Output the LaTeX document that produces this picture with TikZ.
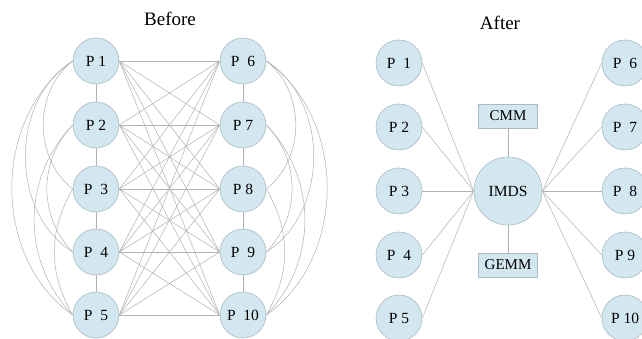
\documentclass[tikz,border=0pt]{standalone}
\usepackage{fontspec}
\setmainfont{Liberation Serif}
\begin{document}
\definecolor{nodefill}{HTML}{D3E7F0}
\definecolor{nodeline}{HTML}{A9BAC2}
\definecolor{wire}{HTML}{B2B2B2}
\newcommand{\wg}{\hspace{4pt}\ }
\begin{tikzpicture}[x=1pt,y=-1pt,
  proc/.style={circle,minimum size=46pt,inner sep=0pt,fill=nodefill,draw=nodeline,line width=0.6pt,font=\fontsize{15.5}{15.5}\selectfont},
  hub/.style={proc,minimum size=68pt},
  modbox/.style={rectangle,minimum width=59pt,minimum height=24pt,inner sep=0pt,fill=nodefill,draw=nodeline,line width=0.6pt,font=\fontsize{15}{15}\selectfont},
  ttl/.style={font=\fontsize{19}{19}\selectfont},
  link/.style={draw=wire,line width=0.5pt}]
\useasboundingbox (0,0) rectangle (642,339);
\fill[white] (0,0) rectangle (642,339);

% ---- Before: fully meshed processes ----
\node[ttl] (tb) at (170,19) {Before};
\node[proc] (a1) at (96,61) {P 1};
\node[proc] (a2) at (96,125) {P 2};
\node[proc] (a3) at (96,189) {P\wg 3};
\node[proc] (a4) at (96,252) {P\wg 4};
\node[proc] (a5) at (96,315) {P\wg 5};
\node[proc] (b1) at (243,61) {P\wg 6};
\node[proc] (b2) at (243,125) {P 7};
\node[proc] (b3) at (243,189) {P 8};
\node[proc] (b4) at (243,252) {P\wg 9};
\node[proc] (b5) at (243,315) {P\wg 10};

% neighbours within each column
\foreach \i/\j in {1/2,2/3,3/4,4/5} {
  \path[link] (a\i.south) -- (a\j.north);
  \path[link] (b\i.south) -- (b\j.north);
}
% every left process to every right process
\foreach \i in {1,...,5} {
  \foreach \j in {1,...,5} {
    \path[link] (a\i.east) -- (b\j.west);
  }
}
% non-adjacent pairs within each column
\foreach \i/\j/\ang in {1/3/52,2/4/44,3/5/30,1/4/58,2/5/44,1/5/55} {
  \path[link] (a\i.west) to[bend right=\ang] (a\j.west);
  \path[link] (b\i.east) to[bend left=\ang] (b\j.east);
}

% ---- After: processes around a shared hub ----
\node[ttl] (ta) at (500,23) {After};
\node[hub] (imds) at (508,191) {IMDS};
\node[modbox] (cmm) at (508,116) {CMM};
\node[modbox] (gemm) at (508,265) {GEMM};
\node[proc] (c1) at (399,63) {P\wg 1};
\node[proc] (c2) at (399,127) {P 2};
\node[proc] (c3) at (399,191) {P 3};
\node[proc] (c4) at (399,255) {P\wg 4};
\node[proc] (c5) at (399,318) {P 5};
\node[proc] (d1) at (625,63) {P\wg 6};
\node[proc] (d2) at (625,127) {P\wg 7};
\node[proc] (d3) at (625,191) {P\wg 8};
\node[proc] (d4) at (625,255) {P 9};
\node[proc] (d5) at (625,318) {P 10};

\path[link] (cmm.south) -- (imds.north);
\path[link] (gemm.north) -- (imds.south);
\foreach \i in {1,...,5} {
  \path[link] (c\i.east) -- (imds.west);
  \path[link] (d\i.west) -- (imds.east);
}
\end{tikzpicture}
\end{document}
